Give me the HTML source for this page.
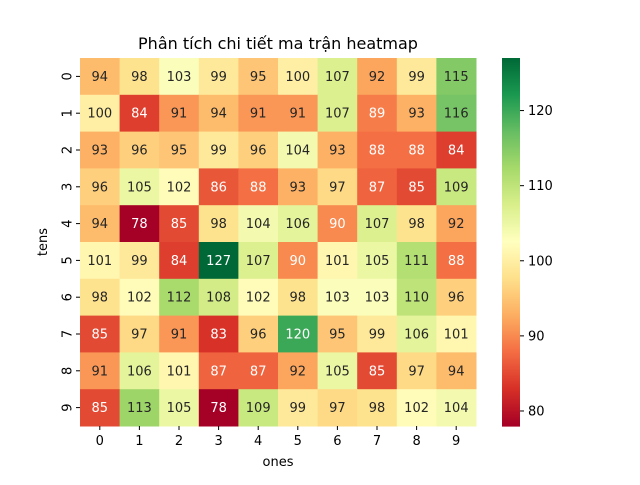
<!DOCTYPE html>
<html><head><meta charset="utf-8"><style>
body{margin:0;background:#fff;}
svg text{font-family:"DejaVu Sans","Liberation Sans",sans-serif;}
</style></head><body>
<svg id="c" width="640" height="480" xmlns="http://www.w3.org/2000/svg"></svg>
<script>
const rowLabels=["0","1","2","3","4","5","6","7","8","9"];
const colLabels=["0","1","2","3","4","5","6","7","8","9"];
const values=[
[94,98,103,99,95,100,107,92,99,115],
[100,84,91,94,91,91,107,89,93,116],
[93,96,95,99,96,104,93,88,88,84],
[96,105,102,86,88,93,97,87,85,109],
[94,78,85,98,104,106,90,107,98,92],
[101,99,84,127,107,90,101,105,111,88],
[98,102,112,108,102,98,103,103,110,96],
[85,97,91,83,96,120,95,99,106,101],
[91,106,101,87,87,92,105,85,97,94],
[85,113,105,78,109,99,97,98,102,104]];
const cbTicks=[80,90,100,110,120];
const vmin=Math.min(...values.flat()), vmax=Math.max(...values.flat());
const stops=["#a50026","#d73027","#f46d43","#fdae61","#fee08b","#ffffbf","#d9ef8b","#a6d96a","#66bd63","#1a9850","#006837"].map(h=>[1,3,5].map(i=>parseInt(h.substr(i,2),16)));
function cmap(v){let t=(v-vmin)/(vmax-vmin);t=Math.max(0,Math.min(1,t))*10;let i=Math.min(9,Math.floor(t)),f=t-i;return stops[i].map((c,k)=>Math.round(c+(stops[i+1][k]-c)*f));}
function lum(c){const l=c.map(x=>{x/=255;return x<=0.03928?x/12.92:Math.pow((x+0.055)/1.055,2.4)});return 0.2126*l[0]+0.7152*l[1]+0.0722*l[2];}
const L=80,R=476,T=58,B=426;
const cw=(R-L)/colLabels.length, ch=(B-T)/rowLabels.length;
const xs=j=>L+j*cw, ys=i=>T+i*ch;
const svg=document.getElementById('c');
const NS="http://www.w3.org/2000/svg";
function el(tag,attrs,txt){const e=document.createElementNS(NS,tag);for(const k in attrs)e.setAttribute(k,attrs[k]);if(txt!==undefined)e.textContent=txt;svg.appendChild(e);return e;}
values.forEach((row,i)=>row.forEach((v,j)=>{
 const c=cmap(v);
 const r=el('rect',{x:xs(j),y:ys(i),width:cw+0.5,height:ch+0.5,fill:`rgb(${c})`});
 
 
 const t=el('text',{x:xs(j)+cw/2,y:ys(i)+ch/2+4.5,'text-anchor':'middle','font-size':13,fill:lum(c)<0.408?'#fff':'#262626'},v);
 
 
}));
colLabels.forEach((lab,j)=>{
 el('line',{x1:xs(j)+cw/2,x2:xs(j)+cw/2,y1:B,y2:B+4,stroke:'#000'});
 const t=el('text',{x:xs(j)+cw/2,y:B+19,'text-anchor':'middle','font-size':13},lab);
 
 
});
rowLabels.forEach((lab,i)=>{
 el('line',{x1:L-4,x2:L,y1:ys(i)+ch/2,y2:ys(i)+ch/2,stroke:'#000'});
 const y=ys(i)+ch/2, x=L-12;
 const t=el('text',{x:x,y:y,'text-anchor':'middle','font-size':13,transform:`rotate(-90 ${x} ${y})`,'dominant-baseline':'middle'},lab);
 
 
});
const xt=el('text',{x:(L+R)/2,y:466,'text-anchor':'middle','font-size':13},'ones');

const yt=el('text',{x:47,y:(T+B)/2,'text-anchor':'middle','font-size':13,transform:`rotate(-90 47 ${(T+B)/2})`},'tens');

const tt=el('text',{x:(L+R)/2,y:49,'text-anchor':'middle','font-size':16},'Phân tích chi tiết ma trận heatmap');

// colorbar
const CX=502,CW=18;
const cbY=v=>B-(v-vmin)/(vmax-vmin)*(B-T);
for(let k=0;k<184;k++){const v=vmin+(vmax-vmin)*k/184;const c=cmap(v);
 const r=el('rect',{x:CX,y:B-(k+1)*(B-T)/184,width:CW,height:(B-T)/184+0.6,fill:`rgb(${c})`});
 }
cbTicks.forEach(v=>{el('line',{x1:CX+CW,x2:CX+CW+4,y1:cbY(v),y2:cbY(v),stroke:'#000'});
 const t=el('text',{x:CX+CW+8,y:cbY(v)+4.5,'font-size':13},v);
 });
</script>
</body></html>
